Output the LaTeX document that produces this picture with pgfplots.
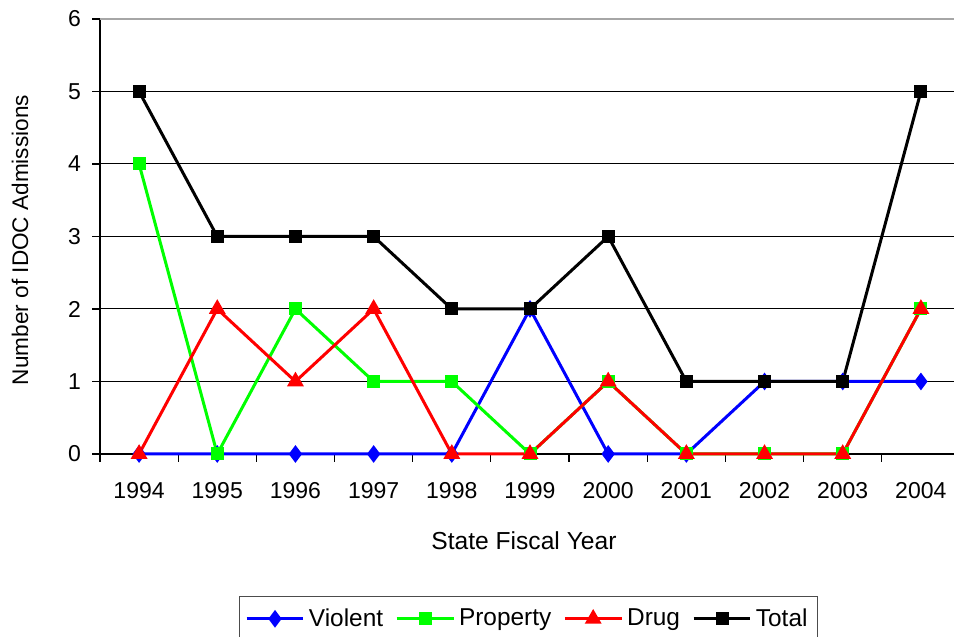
\documentclass[border=0pt]{standalone}
\usepackage{pgfplots}
\pgfplotsset{compat=1.18}
\usepackage{fontspec}
\setmainfont{Liberation Sans}
\definecolor{cblue}{RGB}{0,0,255}
\definecolor{cgreen}{RGB}{0,255,0}
\definecolor{cred}{RGB}{255,0,0}
\begin{document}
\begin{tikzpicture}
\begin{axis}[
  name=ax,
  scale only axis,
  width=430pt, height=217.5pt,
  xmin=1993.5, xmax=2004.5,
  ymin=0, ymax=6,
  axis x line*=bottom, axis y line*=left,
  axis line style={black, line width=0.6pt},
  xtick={1993.5,1994.5,...,2004.5},
  x tick label as interval,
  xticklabels={1994,1995,1996,1997,1998,1999,2000,2001,2002,2003,2004},
  ytick={0,1,2,3,4,5},
  extra y ticks={6},
  extra y tick style={major grid style={gray!70, line width=0.8pt}},
  ymajorgrids,
  major grid style={black, line width=0.5pt},
  tick align=outside,
  major tick length=4pt,
  tick style={black, line width=0.6pt},
  /pgf/number format/assume math mode=true,
  tick label style={font=\fontsize{11.5}{14}\selectfont},
  xticklabel style={yshift=-6.5pt},
  yticklabel style={xshift=-2pt},
  xlabel={State Fiscal Year},
  ylabel={Number of IDOC Admissions},
  x label style={font=\fontsize{12.3}{14}\selectfont, at={(axis description cs:0.493,0)}, yshift=-43.5pt, anchor=center},
  y label style={font=\fontsize{11.3}{14}\selectfont, at={(axis description cs:-0.093,0.492)}, anchor=center},
  legend columns=4,
  legend style={at={(axis description cs:0.498,0)}, yshift=-71pt, anchor=north,
    draw=black!70, line width=0.5pt, font=\fontsize{12.2}{14}\selectfont,
    /tikz/every even column/.append style={column sep=4pt},
    /tikz/every odd column/.append style={column sep=0pt},
    inner xsep=3pt, inner ysep=4pt},
  legend image code/.code={\draw[mark repeat=2,mark phase=2] plot coordinates {(0cm,0cm)(0.5cm,0cm)(1cm,0cm)};},
  clip=false,
]
\addplot[cblue, line width=1.5pt, mark=diamond*, mark size=3.2pt, mark options={solid}] coordinates {
(1994,0)(1995,0)(1996,0)(1997,0)(1998,0)(1999,2)(2000,0)(2001,0)(2002,1)(2003,1)(2004,1)};
\addlegendentry{Violent}
\addplot[cgreen, line width=1.5pt, mark=square*, mark size=2.5pt] coordinates {
(1994,4)(1995,0)(1996,2)(1997,1)(1998,1)(1999,0)(2000,1)(2001,0)(2002,0)(2003,0)(2004,2)};
\addlegendentry{Property}
\addplot[cred, line width=1.5pt, mark=triangle*, mark size=3.4pt] coordinates {
(1994,0)(1995,2)(1996,1)(1997,2)(1998,0)(1999,0)(2000,1)(2001,0)(2002,0)(2003,0)(2004,2)};
\addlegendentry{Drug}
\addplot[black, line width=1.5pt, mark=square*, mark size=2.5pt] coordinates {
(1994,5)(1995,3)(1996,3)(1997,3)(1998,2)(1999,2)(2000,3)(2001,1)(2002,1)(2003,1)(2004,5)};
\addlegendentry{Total}
\end{axis}
\pgfresetboundingbox
\path[use as bounding box] ([xshift=-50pt,yshift=-91.5pt]ax.south west) rectangle ([xshift=427pt,yshift=9.5pt]ax.north west);
\end{tikzpicture}
\end{document}
